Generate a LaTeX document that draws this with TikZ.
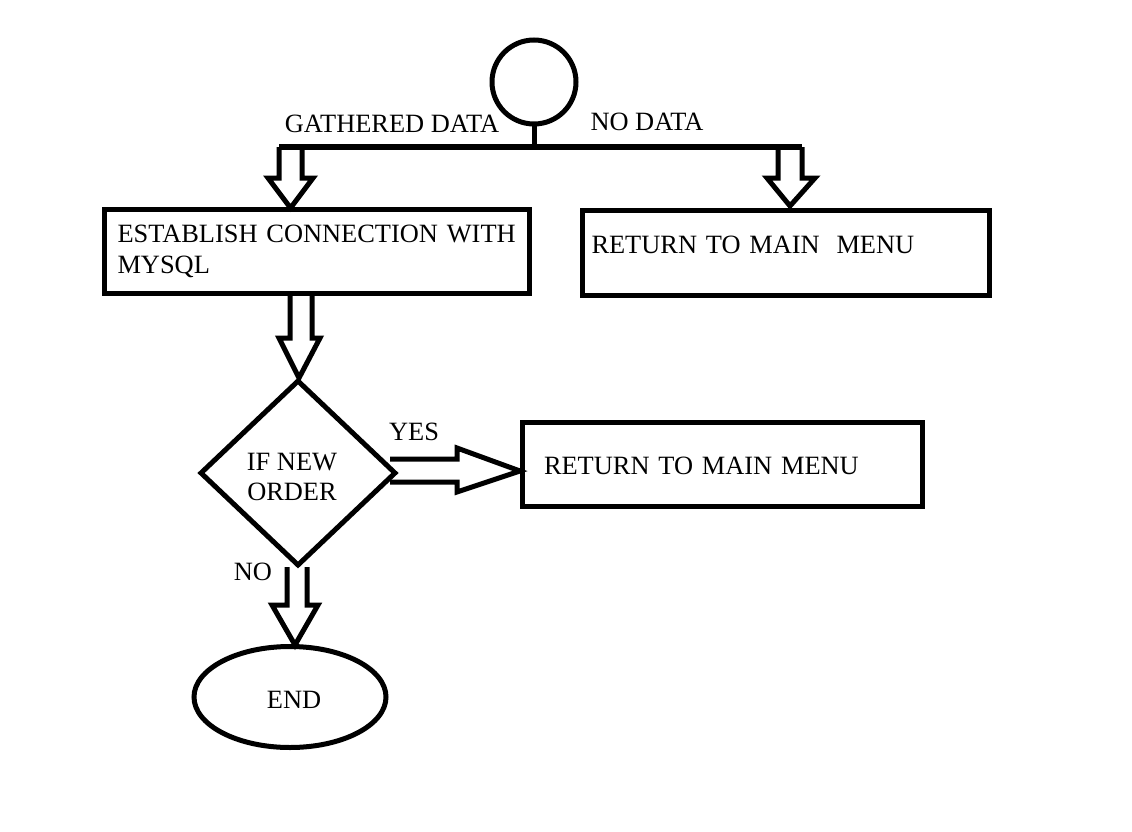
\documentclass[tikz,border=0pt]{standalone}
\usepackage{fontspec}
\setmainfont{Liberation Serif}
\usetikzlibrary{shapes.geometric}
\begin{document}
\begin{tikzpicture}[x=1pt,y=-1pt,line width=5pt,line join=miter,
  every node/.style={font=\fontsize{26.4}{32}\selectfont},
  box/.style={draw,rectangle,inner ysep=0pt,align=left},
  lbl/.style={inner sep=0pt},
  barrow/.style={draw,line width=5pt,line join=miter}]
\path[fill=white] (0,0) rectangle (1132,832);
% nodes
\node[box,minimum width=425pt,minimum height=84pt,text width=399pt,inner xsep=13pt] (conn) at (317,251) {ESTABLISH CONNECTION WITH\\[-1pt]MYSQL};
\node[draw,circle,minimum size=84pt,inner sep=0pt] (start) at (534,82) {};
\node[box,minimum width=407pt,minimum height=85pt,text width=389pt,inner xsep=9pt,text height=19pt,text depth=19pt] (ret1) at (786,253) {RETURN TO MAIN\hspace{0.3em} MENU};
\node[draw,diamond,minimum width=196pt,minimum height=186pt,inner sep=0pt] (dec) at (298,473) {\raisebox{-12pt}[0pt][0pt]{\hspace*{-12pt}\begin{tabular}{@{}c@{}}IF NEW\\[-2pt]ORDER\end{tabular}}};
\node[box,minimum width=400pt,minimum height=84pt,text width=356pt,inner xsep=22pt,text height=30pt,text depth=9pt] (ret2) at (722,464) {RETURN TO MAIN MENU};
\node[draw,ellipse,minimum width=192pt,minimum height=101pt,inner sep=0pt] (end) at (290,697) {\raisebox{-11.5pt}[0pt][0pt]{\hspace*{8pt}END}};
% labels
\node[lbl] (lgd) at (392,124) {GATHERED DATA};
\node[lbl] (lnd) at (647,122) {NO DATA};
\node[lbl] (lyes) at (414,432) {YES};
\node[lbl] (lno) at (253,572) {NO};
% split connector
\coordinate (split) at (start.south |- 0,147);
\coordinate (bl) at (279,147);
\coordinate (br) at (802,147);
\draw (start.south) -- (split);
% block arrows
\draw[barrow] (bl) -- (279,178) -- (268,178) -- (290.5,208) -- (313,178) -- (302,178) -- (302,147);
\draw[barrow] (778,147) -- (778,178) -- (767,178) -- (790,206) -- (815,178) -- (802,178) -- (br);
\draw (bl) -- (br);
\draw[barrow] (290,294) -- (290,338) -- (279,338) -- (299,378) -- (320,338) -- (312,338) -- (312,294);
\draw[barrow] (390,459) -- (457,459) -- (457,448) -- (520,471) -- (457,492) -- (457,482) -- (390,482);
\draw[barrow] (287,567) -- (287,605) -- (272,605) -- (295,645) -- (318,605) -- (307,605) -- (307,567);
\end{tikzpicture}
\end{document}
